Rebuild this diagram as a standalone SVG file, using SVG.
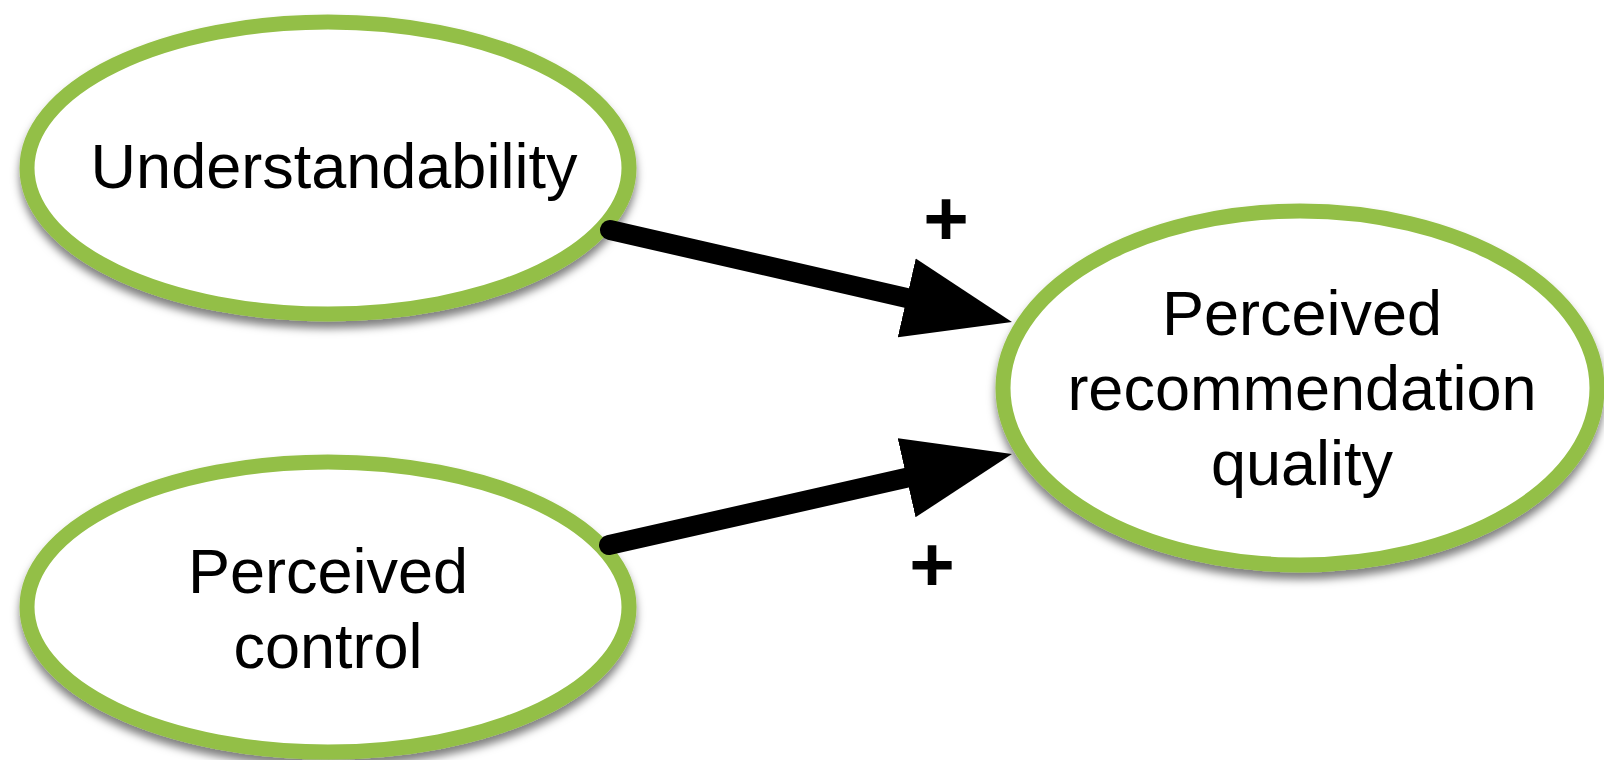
<svg xmlns="http://www.w3.org/2000/svg" width="1604" height="760" viewBox="0 0 1604 760">
  <defs>
    <filter id="shadow" x="-10%" y="-10%" width="120%" height="130%">
      <feDropShadow dx="0" dy="7" stdDeviation="4" flood-color="#000" flood-opacity="0.5"/>
    </filter>
    <marker id="head" viewBox="0 -41 109 82" markerWidth="109" markerHeight="82" refX="0" refY="0" orient="auto" markerUnits="userSpaceOnUse">
      <path d="M0,-40.5 L108,0 L0,40.5 Z" fill="#000"/>
    </marker>
    <style>
      .node { fill: #ffffff; stroke: #93bf46; stroke-width: 15; filter: url(#shadow); }
      .label { font-family: "Liberation Sans", Arial, Helvetica, sans-serif; font-size: 63px; fill: #000; text-anchor: middle; }
      .sign { font-family: "Liberation Sans", Arial, Helvetica, sans-serif; font-size: 78px; font-weight: bold; fill: #000; text-anchor: middle; }
      .edge { fill: none; stroke: #000; stroke-width: 20; stroke-linecap: round; marker-end: url(#head); }
    </style>
  </defs>
  <rect width="1604" height="760" fill="#ffffff"/>

  <g id="node-understandability">
    <ellipse class="node" cx="328" cy="168" rx="301" ry="146"/>
    <text class="label" x="334" y="188">Understandability</text>
  </g>

  <g id="node-perceived-control">
    <ellipse class="node" cx="328" cy="607" rx="301" ry="145"/>
    <text class="label" x="328" y="593">Perceived</text>
    <text class="label" x="328" y="668">control</text>
  </g>

  <g id="node-perceived-recommendation-quality">
    <ellipse class="node" cx="1300" cy="388" rx="297" ry="177"/>
    <text class="label" x="1302" y="335">Perceived</text>
    <text class="label" x="1302" y="410">recommendation</text>
    <text class="label" x="1302" y="485">quality</text>
  </g>

  <g id="connectors">
    <path class="edge" d="M610,230 L906.7,297.9"/>
    <path class="edge" d="M609,545 L906.6,477.8"/>
    <text class="sign" x="946" y="245">+</text>
    <text class="sign" x="932" y="591">+</text>
  </g>
</svg>
